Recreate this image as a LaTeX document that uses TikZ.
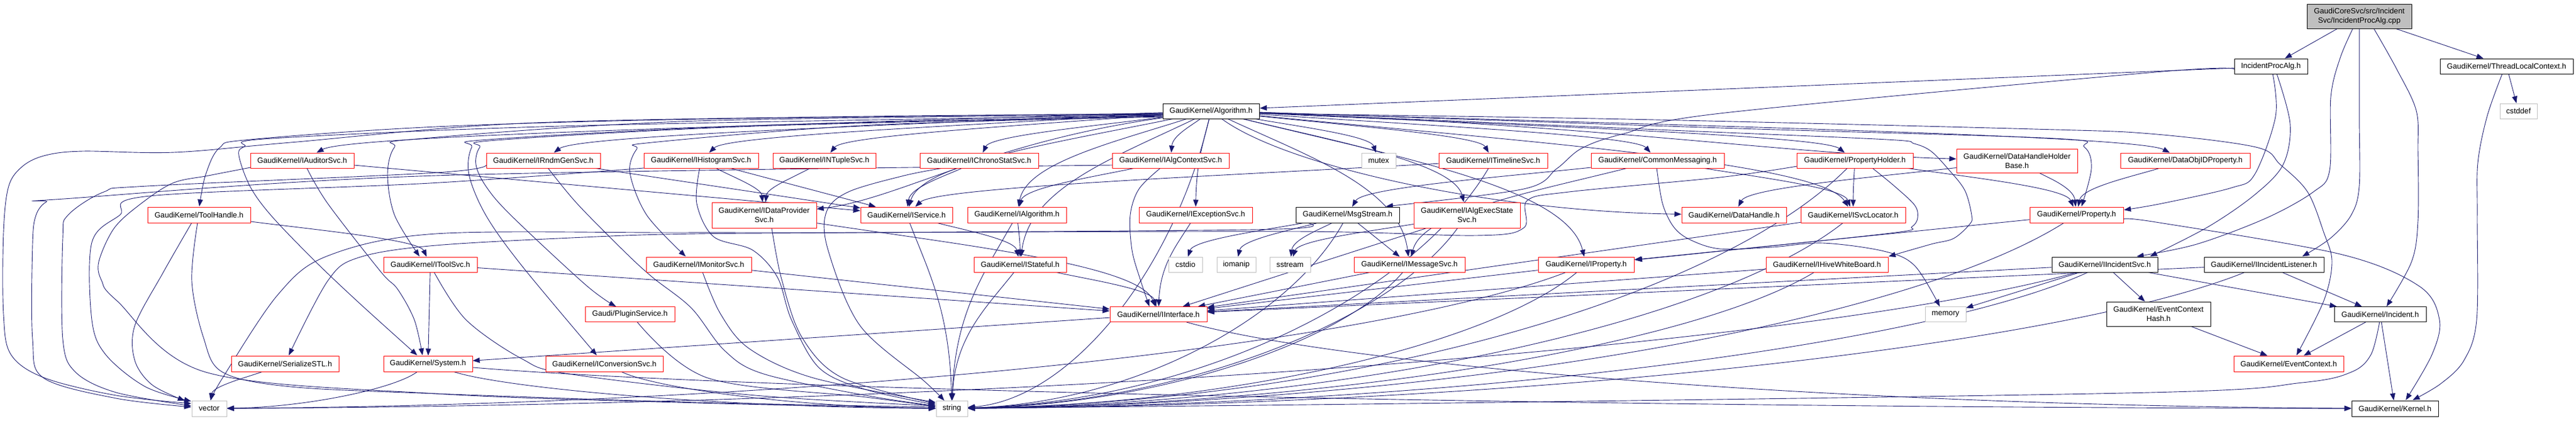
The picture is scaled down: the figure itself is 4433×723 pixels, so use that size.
\documentclass[tikz,border=0pt]{standalone}
\usepackage{fontspec}
\setmainfont{Liberation Sans}
\usetikzlibrary{arrows.meta,calc}
\pgfdeclarelayer{bgzero}
\pgfdeclarelayer{edges}
\pgfsetlayers{bgzero,edges,main}
\definecolor{edgec}{HTML}{191970}
\definecolor{grayb}{HTML}{BFBFBF}
\definecolor{redb}{HTML}{FF0000}
\definecolor{rootfill}{HTML}{BFBFBF}
\tikzset{
  ea/.store in=\dea, eb/.store in=\deb, ec/.store in=\dec, ed/.store in=\ded,
  ea=0.5, eb=0.3, ec=0.05, ed=0.5,
  side/.style={ea=0.15, eb=0.55, ec=0.45, ed=0.97},
  straight/.style={ea=0.5, eb=0.5, ec=0.5, ed=0.5},
  nb/.style={draw, line width=1pt, inner sep=0pt, align=center, fill=white,
     font=\fontsize{13.1}{16}\selectfont},
  rn/.style={nb, draw=redb},
  bn/.style={nb, draw=black},
  gn/.style={nb, draw=grayb},
  rootn/.style={nb, draw=black, fill=rootfill},
  dox/.style={to path={let \p1=(\tikztostart), \p2=(\tikztotarget) in
     (\tikztostart) .. controls ({\x1+\dea*(\x2-\x1)},{\y1+\deb*(\y2-\y1)})
       and ({\x2-\dec*(\x2-\x1)},{\y1+\ded*(\y2-\y1)}) .. (\tikztotarget) \tikztonodes}},
  depplain/.style={draw=edgec, line width=0.9pt, -{Triangle[length=12pt,width=9pt]}},
  dep/.style={depplain, dox},
}
\newcommand\nd[7]{\node[#2, minimum width=#5pt, minimum height=#6pt] (#1) at (#3,-#4) {#7};}
\newcommand\DE[3][]{\draw[dep,#1] (#2) to (#3);}
\newcommand\SP[1]{\draw[depplain] plot[smooth,tension=0.55] coordinates {#1};}
\begin{document}
\begin{tikzpicture}[x=1pt,y=1pt]
\begin{pgfonlayer}{bgzero}
\fill[white] (0,0) rectangle (4433,-723);
\end{pgfonlayer}
\useasboundingbox (0,0) rectangle (4433,-723);

% ---------- nodes ----------
\nd{root}{rootn}{4060}{28}{180}{42}{GaudiCoreSvc/src/Incident\\Svc/IncidentProcAlg.cpp}
\nd{ipa}{bn}{3908}{114}{126}{26}{IncidentProcAlg.h}
\nd{tlc}{bn}{4313.5}{114}{229}{26}{GaudiKernel/ThreadLocalContext.h}
\nd{cstddef}{gn}{4334}{191}{64}{26}{cstddef}
\nd{alg}{bn}{2084}{191}{166}{26}{GaudiKernel/Algorithm.h}
% row A
\nd{aud}{rn}{520}{276}{178}{26}{GaudiKernel/IAuditorSvc.h}
\nd{rndm}{rn}{935}{276}{196}{26}{GaudiKernel/IRndmGenSvc.h}
\nd{hist}{rn}{1206.5}{276}{197}{26}{GaudiKernel/IHistogramSvc.h}
\nd{ntup}{rn}{1418.5}{276}{177}{26}{GaudiKernel/INTupleSvc.h}
\nd{chrono}{rn}{1685}{276}{204}{26}{GaudiKernel/IChronoStatSvc.h}
\nd{actx}{rn}{2014.5}{276}{201}{26}{GaudiKernel/IAlgContextSvc.h}
\nd{mutex}{gn}{2372.5}{276}{59}{26}{mutex}
\nd{tline}{rn}{2569.5}{276}{187}{26}{GaudiKernel/ITimelineSvc.h}
\nd{cmsg}{rn}{2852.5}{276}{229}{26}{GaudiKernel/CommonMessaging.h}
\nd{pholder}{rn}{3192}{276}{200}{26}{GaudiKernel/PropertyHolder.h}
\nd{dhhb}{rn}{3471}{276.5}{208}{41}{GaudiKernel/DataHandleHolder\\Base.h}
\nd{doid}{rn}{3760.5}{276}{223}{26}{GaudiKernel/DataObjIDProperty.h}
% row B
\nd{tool}{rn}{342.5}{369.5}{177}{27}{GaudiKernel/ToolHandle.h}
\nd{dps}{rn}{1315}{370}{180}{44}{GaudiKernel/IDataProvider\\Svc.h}
\nd{isvc}{rn}{1560}{369.5}{158}{27}{GaudiKernel/IService.h}
\nd{ialg}{rn}{1750}{369.5}{170}{27}{GaudiKernel/IAlgorithm.h}
\nd{exc}{rn}{2057.5}{369.5}{195}{27}{GaudiKernel/IExceptionSvc.h}
\nd{msg}{bn}{2319}{369.5}{178}{27}{GaudiKernel/MsgStream.h}
\nd{aes}{rn}{2524.5}{370}{183}{44}{GaudiKernel/IAlgExecState\\Svc.h}
\nd{dh}{rn}{2984}{369.5}{180}{27}{GaudiKernel/DataHandle.h}
\nd{svcloc}{rn}{3189}{369.5}{180}{27}{GaudiKernel/ISvcLocator.h}
\nd{prop}{rn}{3573.5}{369.5}{161}{27}{GaudiKernel/Property.h}
% row C
\nd{itoolsvc}{rn}{740.5}{455}{161}{26}{GaudiKernel/IToolSvc.h}
\nd{mon}{rn}{1202.5}{455}{181}{26}{GaudiKernel/IMonitorSvc.h}
\nd{stateful}{rn}{1755.5}{455}{159}{26}{GaudiKernel/IStateful.h}
\nd{cstdio}{gn}{2040}{455}{58}{26}{cstdio}
\nd{iomanip}{gn}{2127.5}{455}{67}{26}{iomanip}
\nd{sstream}{gn}{2220}{455}{70}{26}{sstream}
\nd{imsg}{rn}{2425.5}{455}{191}{26}{GaudiKernel/IMessageSvc.h}
\nd{iprop}{rn}{2729.5}{455}{165}{26}{GaudiKernel/IProperty.h}
\nd{hive}{rn}{3144}{455}{210}{26}{GaudiKernel/IHiveWhiteBoard.h}
\nd{incsvc}{bn}{3622}{455}{182}{26}{GaudiKernel/IIncidentSvc.h}
\nd{inclis}{bn}{3896}{455}{206}{26}{GaudiKernel/IIncidentListener.h}
% row D
\nd{plugin}{rn}{1084}{540.5}{154}{26}{Gaudi/PluginService.h}
\nd{iif}{rn}{1993.5}{540.5}{167}{26}{GaudiKernel/IInterface.h}
\nd{memory}{gn}{3348}{540.5}{70}{26}{memory}
\nd{ech}{bn}{3714.5}{540}{179}{42}{GaudiKernel/EventContext\\Hash.h}
\nd{incident}{bn}{4096}{540.5}{158}{26}{GaudiKernel/Incident.h}
% row E
\nd{ser}{rn}{490.5}{625.5}{185}{27}{GaudiKernel/SerializeSTL.h}
\nd{sys}{rn}{736.5}{625.5}{153}{27}{GaudiKernel/System.h}
\nd{conv}{rn}{1040}{625.5}{202}{27}{GaudiKernel/IConversionSvc.h}
\nd{ectx}{rn}{3938.5}{625.5}{189}{27}{GaudiKernel/EventContext.h}
% row F
\nd{vector}{gn}{360}{702.5}{60}{27}{vector}
\nd{string}{gn}{1638}{702.5}{54}{27}{string}
\nd{kernel}{bn}{4121.5}{702.5}{149}{27}{GaudiKernel/Kernel.h}

% ---------- edges ----------
\begin{pgfonlayer}{edges}
% root and IncidentProcAlg.h
\DE[straight]{root}{ipa}
\DE[straight]{root}{tlc}
\SP{(4049,-49) (4027,-100) (4011,-167) (4009,-293) (3981,-330) (3900,-375) (3780,-420) (3677,-441)}
\SP{(4060,-49) (4060,-200) (4060,-320) (4046,-370) (4010,-410) (3962,-441)}
\SP{(4085,-49) (4125,-120) (4158,-190) (4161,-260) (4161,-380) (4150,-450) (4107,-527)}
\draw[depplain] (3845,-117) -- (2168,-186);
\SP{(3845,-119) (3710,-124) (2960,-195) (2794,-230) (2722,-255) (2679,-290) (2622,-325) (2385,-355)}
\SP{(3911,-127) (3916,-200) (3880,-300) (3840,-323) (3720,-350) (3655,-361)}
\SP{(3918,-127) (3941,-213) (3929,-283) (3880,-335) (3800,-390) (3700,-441)}
\DE[straight]{tlc}{cstddef}
\SP{(4306,-127) (4280,-200) (4264,-280) (4263,-370) (4262,-550) (4240,-620) (4200,-660) (4152,-688)}
% Algorithm.h
\DE{alg}{aud}
\DE{alg}{rndm}
\DE{alg}{hist}
\DE{alg}{ntup}
\DE{alg}{chrono}
\DE{alg}{actx}
\DE{alg}{mutex}
\DE{alg}{tline}
\DE{alg}{cmsg}
\DE{alg}{pholder}
\DE[ec=0.3,ed=0.85]{alg}{dhhb}
\DE{alg}{doid}
\DE[ec=0.3,ed=0.85]{alg}{dps}
\DE{alg}{isvc}
\DE{alg}{ialg}
\DE{alg}{exc}
\DE{alg}{aes}
\DE{alg}{svcloc}
\DE{alg}{stateful}
\DE{alg}{imsg}
\DE{alg}{iprop}
\DE[side]{alg}{dh}
\DE[side]{alg}{string}
\SP{(2001,-195) (1200,-205) (750,-218) (430,-240) (378,-254) (354,-300) (343,-355)}
\SP{(2001,-197) (1200,-208) (717,-239) (679,-253) (667,-300) (679,-370) (722,-441)}
\SP{(2001,-198) (1000,-216) (469,-238) (421,-252) (411,-267) (430,-320) (466,-370) (540,-447) (617,-520) (718,-611)}
\SP{(2001,-199) (1300,-216) (840,-240) (812,-253) (807,-300) (836,-370) (898,-457) (1027,-611)}
\SP{(2001,-200) (1300,-217) (855,-241) (826,-253) (819,-283) (836,-320) (879,-370) (1008,-490) (1060,-527)}
\SP{(2001,-201) (1500,-215) (1122,-245) (1096,-256) (1084,-297) (1113,-370) (1180,-441)}
\SP{(2001,-196) (1500,-200) (900,-212) (500,-245) (300,-262) (143,-260) (79,-267) (40,-285) (15,-320) (6,-400) (6,-540) (19,-610) (77,-650) (200,-680) (329,-694)}
\SP{(2167,-193) (2960,-220) (3534,-238) (3587,-253) (3599,-290) (3582,-355)}
\SP{(2167,-194) (2900,-225) (3247,-240) (3294,-247) (3323,-260) (3352,-290) (3381,-327) (3393,-370) (3390,-385) (3362,-410) (3323,-420) (3250,-441)}
\SP{(2167,-195) (2800,-205) (3500,-222) (3700,-230) (3882,-253) (3924,-283) (3971,-330) (3999,-400) (4013,-450) (3999,-517) (3952,-611)}
% left side, second level
\DE{tool}{itoolsvc}
\SP{(330,-383) (280,-470) (232,-560) (232,-620) (262,-662) (318,-689)}
\SP{(340,-383) (330,-483) (350,-580) (383,-640) (500,-665) (750,-677) (1200,-692) (1610,-700)}
\DE[straight]{aud}{isvc}
\SP{(528,-289) (564,-350) (655,-467) (684,-497) (713,-550) (727,-611)}
\SP{(431,-288) (359,-302) (297,-315) (239,-353) (196,-393) (170,-450) (175,-483) (201,-517) (354,-640) (750,-677) (1200,-693) (1610,-702)}
\DE[straight]{rndm}{isvc}
\SP{(837,-284) (750,-297) (253,-320) (179,-330) (117,-370) (108,-410) (108,-583) (130,-640) (200,-675) (329,-698)}
\SP{(943,-289) (993,-350) (1075,-433) (1123,-477) (1190,-530) (1247,-603) (1314,-643) (1490,-680) (1610,-698)}
\DE{hist}{dps}
\DE[straight]{hist}{isvc}
\SP{(1108,-289) (740,-315) (258,-337) (206,-370) (158,-417) (158,-550) (182,-610) (250,-665) (329,-690)}
\SP{(1204,-289) (1199,-350) (1228,-407) (1295,-430) (1338,-477) (1362,-550) (1410,-633) (1490,-670) (1610,-696)}
\DE{ntup}{dps}
\DE{chrono}{isvc}
\SP{(1623,-289) (1556,-302) (1460,-330) (1422,-365) (1425,-430) (1480,-560) (1590,-655) (1625,-689)}
\DE{actx}{ialg}
\SP{(1997,-289) (1960,-325) (1945,-370) (1948,-430) (1962,-480) (1978,-527)}
\SP{(1914,-284) (750,-302) (110,-342) (80,-347) (62,-370) (56,-420) (56,-583) (75,-650) (200,-685) (329,-700)}
\DE{exc}{iif}
\DE{dps}{iif}
\SP{(1328,-392) (1345,-480) (1380,-580) (1450,-650) (1610,-694)}
\DE{isvc}{stateful}
\DE{isvc}{string}
\DE{ialg}{stateful}
\DE{ialg}{string}
\DE{stateful}{iif}
\DE{stateful}{string}
\DE[straight]{itoolsvc}{sys}
\DE[straight]{itoolsvc}{iif}
\SP{(747,-468) (802,-550) (898,-617) (979,-643) (1300,-680) (1610,-698)}
\DE[straight]{mon}{iif}
\SP{(1209,-468) (1240,-540) (1290,-600) (1400,-650) (1610,-692)}
\SP{(1096,-553) (1218,-650) (1490,-683) (1610,-699)}
\DE[side]{conv}{string}
\DE[side]{sys}{vector}
\DE[side]{sys}{string}
\DE[side]{sys}{kernel}
\DE{ser}{vector}
\DE[straight]{iif}{sys}
\DE[side]{iif}{kernel}
% middle
\DE[straight]{msg}{imsg}
\SP{(2231,-380) (2200,-394) (1480,-400) (1199,-402) (1027,-407) (750,-422) (617,-443) (564,-483) (497,-611)}
\DE{msg}{cstdio}
\DE{msg}{iomanip}
\DE{msg}{sstream}
\DE[side]{msg}{string}
\DE{aes}{sstream}
\DE[straight]{aes}{iif}
\DE[side]{aes}{string}
\DE[straight]{imsg}{iif}
\DE[side]{imsg}{string}
\DE[straight]{iprop}{iif}
\DE[side]{iprop}{string}
\DE[side]{iprop}{vector}
\DE{tline}{isvc}
\DE[side]{tline}{string}
\DE{cmsg}{msg}
\DE{cmsg}{imsg}
\DE{cmsg}{svcloc}
\SP{(2851,-289) (2861,-350) (2880,-390) (2908,-412) (2960,-428) (3050,-425) (3137,-418) (3242,-432) (3295,-457) (3338,-527)}
% right side
\SP{(3222,-289) (3260,-320) (3295,-353) (3300,-375) (3290,-390) (3261,-400) (2960,-432) (2814,-447)}
\DE{pholder}{prop}
\DE{pholder}{svcloc}
\SP{(3092,-286) (2960,-305) (2700,-330) (2628,-345) (2622,-392) (2540,-405) (2230,-398) (1480,-400) (1160,-400) (750,-402) (564,-440) (478,-507) (383,-650) (363,-688)}
\DE[side]{pholder}{string}
\DE{dhhb}{dh}
\DE{dhhb}{prop}
\DE{doid}{prop}
\DE[straight]{prop}{iprop}
\SP{(3654,-377) (3710,-382) (4027,-437) (4163,-492) (4198,-550) (4185,-610) (4140,-688)}
\DE[side]{prop}{string}
\DE[straight]{svcloc}{iif}
\DE[side]{svcloc}{string}
\DE[straight]{hive}{iif}
\DE[side]{hive}{string}
\DE[straight]{incsvc}{iif}
\DE[straight]{incsvc}{incident}
\DE[straight]{incsvc}{ech}
\DE[straight]{incsvc}{memory}
\DE[side]{incsvc}{string}
\DE[side]{incsvc}{vector}
\DE[straight]{inclis}{iif}
\DE[side]{inclis}{string}
\DE[straight]{inclis}{incident}
\DE[straight]{incident}{ectx}
\DE[straight]{incident}{kernel}
\SP{(4095,-553) (4080,-610) (4046,-640) (3962,-658) (3700,-675) (2500,-693) (1666,-702)}
\DE[straight]{ech}{ectx}
\end{pgfonlayer}
\end{tikzpicture}
\end{document}
